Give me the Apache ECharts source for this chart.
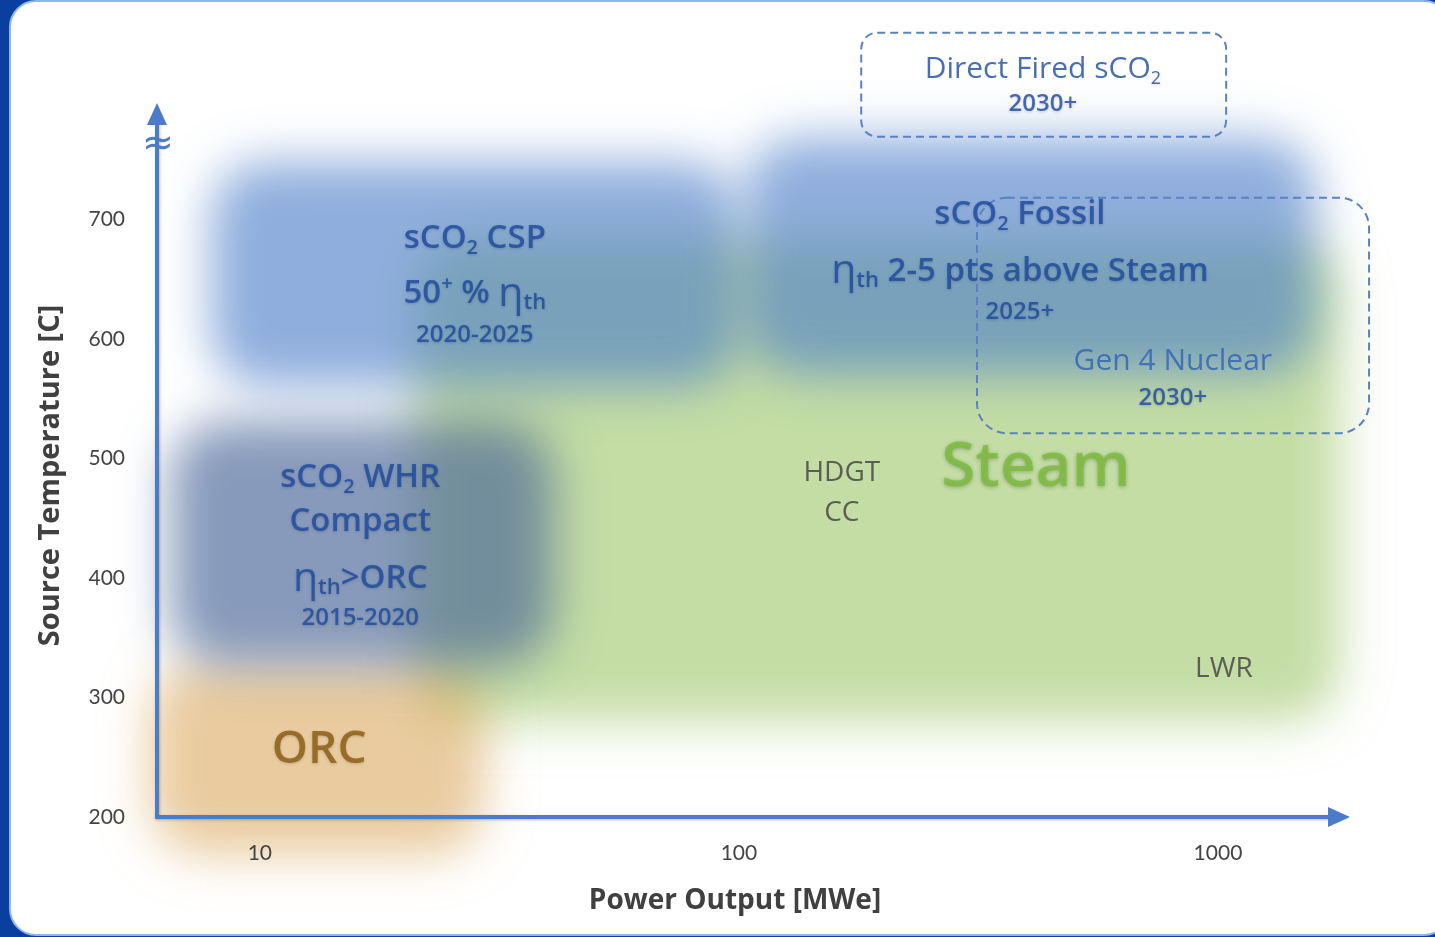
<!DOCTYPE html>
<html><head><meta charset="utf-8">
<script src="https://cdn.jsdelivr.net/npm/echarts@6/dist/echarts.min.js"></script>
<style>html,body{margin:0;padding:0;background:#0b3f9f;overflow:hidden}#c{width:1435px;height:937px}</style>
</head><body><div id="c"></div>
<script>
// ---- data ----
const xTickLabels = [10, 100, 1000];
const yTickLabels = [200, 300, 400, 500, 600, 700];
const regionNames = ['Steam', 'ORC', 'sCO2 WHR', 'sCO2 CSP', 'sCO2 Fossil'];
const regionPowerMin = [21, 5.9, 6.5, 7.9, 103];
const regionPowerMax = [1800, 29.5, 41, 100, 1600];
const regionTempMin = [280, 168, 327, 560, 570];
const regionTempMax = [685, 329, 531, 748, 768];
const boxNames = ['Direct Fired sCO2', 'Gen 4 Nuclear'];
const boxPowerMin = [180, 314];
const boxPowerMax = [1040, 2067];
const boxTempMin = [769, 521];
const boxTempMax = [856, 718];
const noteTexts = ['sCO{s|2} CSP', '50{p|+} % {eta|η}{th|th}', '2020-2025',
  'sCO{s|2} Fossil', '{eta|η}{th|th} 2-5 pts above Steam', '2025+',
  'Gen 4 Nuclear', '2030+', 'Direct Fired sCO{s|2}', '2030+',
  'sCO{s|2} WHR', 'Compact', '{eta|η}{th|th}>ORC', '2015-2020',
  'ORC', 'Steam', 'HDGT', 'CC', 'LWR'];
const notePower = [28.1, 28.1, 28.1, 386, 386, 386, 805, 805, 431, 431, 16.2, 16.2, 16.2, 16.2, 13.3, 417, 164, 164, 1029];
const noteTemp = [684, 637.5, 603, 704, 656, 622, 581, 550, 825, 796, 484, 447.5, 399, 366, 256, 492, 487.5, 454, 324];
const noteKinds = ['head', 'head', 'year', 'head', 'head', 'year', 'gen4', 'year', 'direct', 'year',
  'head', 'head', 'head', 'year', 'orc', 'steam', 'plain', 'plain', 'plain'];

// ---- styles ----
const regionColors = {
  'Steam': 'rgba(160,200,110,0.62)',
  'ORC': 'rgba(215,160,80,0.55)',
  'sCO2 WHR': 'rgba(70,100,150,0.65)',
  'sCO2 CSP': 'rgba(75,125,200,0.62)',
  'sCO2 Fossil': 'rgba(75,125,200,0.62)'
};
const AX = '#4a7cc9';
const FONT = '"Open Sans", Lato, sans-serif';
const BLUE = '#1b4aa0';
const shadow = {textShadowColor: 'rgba(0,0,0,0.22)', textShadowBlur: 3, textShadowOffsetY: 1};
function richFor(st) {
  const size = st.fontSize, color = st.color, fw = st.fontWeight || 'normal';
  return {
    s: {fontSize: Math.round(size * 0.6), color, fontWeight: fw, fontFamily: FONT, lineHeight: 14, verticalAlign: 'bottom', ...shadow},
    th: {fontSize: Math.round(size * 0.66), color, fontWeight: fw, fontFamily: FONT, lineHeight: 16, verticalAlign: 'bottom', ...shadow},
    p: {fontSize: Math.round(size * 0.6), color, fontWeight: fw, fontFamily: FONT, lineHeight: 26, verticalAlign: 'top', ...shadow},
    eta: {fontSize: Math.round(size * 1.25), color, fontWeight: 'normal', fontFamily: FONT, lineHeight: 40, ...shadow}
  };
}
const kindStyle = {
  head: {fontSize: 33, fontWeight: 600, color: BLUE, lineHeight: 40, ...shadow},
  year: {fontSize: 24, fontWeight: 600, color: BLUE, lineHeight: 30, ...shadow},
  gen4: {fontSize: 30, fontWeight: 'normal', color: '#2f62b6', lineHeight: 34},
  direct: {fontSize: 30, fontWeight: 500, color: BLUE, lineHeight: 36},
  orc: {fontSize: 46, fontWeight: 600, color: '#8a5c12', lineHeight: 50, ...shadow},
  steam: {fontSize: 62, fontWeight: 600, color: '#7cbd3c', lineHeight: 70, textShadowColor: 'rgba(0,0,0,0.3)', textShadowBlur: 4, textShadowOffsetY: 1},
  plain: {fontSize: 28, fontWeight: 'normal', color: '#404040', lineHeight: 32}
};

const regionData = regionNames.map((n, i) => [regionPowerMin[i], regionPowerMax[i], regionTempMin[i], regionTempMax[i]]);
const boxData = boxNames.map((n, i) => [boxPowerMin[i], boxPowerMax[i], boxTempMin[i], boxTempMax[i]]);
const noteData = noteTexts.map((t, i) => {
  const st = kindStyle[noteKinds[i]];
  return {
    value: [notePower[i], noteTemp[i]],
    label: {
      show: true, position: 'inside', formatter: t, fontFamily: FONT, ...st,
      rich: richFor(st)
    }
  };
});

function rectFromData(api) {
  const p0 = api.coord([api.value(0), api.value(3)]);
  const p1 = api.coord([api.value(1), api.value(2)]);
  return {x: p0[0], y: p0[1], width: p1[0] - p0[0], height: p1[1] - p0[1]};
}

const OFF = 5000;
const chart = echarts.init(document.getElementById('c'), null, {renderer: 'canvas'});
chart.setOption({
  animation: false,
  backgroundColor: 'transparent',
  grid: {left: 157, right: 96, top: 114, bottom: 120},
  graphic: [
    {type: 'rect', z: -10, shape: {x: 10, y: 1, width: 1440, height: 934, r: 26},
      style: {fill: '#ffffff', stroke: '#8fb5ea', lineWidth: 2}},
    {type: 'text', z: 10, x: 158, y: 145, style: {text: '≈', fontSize: 38, fontFamily: 'DejaVu Sans', fill: AX, align: 'center', verticalAlign: 'middle'}}
  ],
  xAxis: {
    type: 'log', logBase: 10, min: 6.1, max: 1789, z: 5,
    name: 'Power Output [MWe]', nameLocation: 'middle', nameGap: 70,
    nameTextStyle: {fontSize: 28, fontWeight: 'bold', color: '#404040', fontFamily: FONT, padding: [0, 26, 0, 0]},
    axisLine: {show: true, symbol: ['none', 'triangle'], symbolSize: [20, 22],
      lineStyle: {color: AX, width: 4, shadowColor: 'rgba(0,0,0,0.25)', shadowBlur: 3, shadowOffsetY: 1}},
    axisTick: {show: false}, splitLine: {show: false}, minorTick: {show: false},
    axisLabel: {fontSize: 21, color: '#444', fontFamily: 'Lato, sans-serif', margin: 26,
      showMinLabel: false, showMaxLabel: false,
      formatter: v => { const m = xTickLabels.find(t => Math.abs(t - v) / t < 1e-6); return m ? String(m) : ''; }}
  },
  yAxis: {
    type: 'value', min: 200, max: 788, interval: 100, z: 5,
    name: 'Source Temperature [C]', nameLocation: 'middle', nameGap: 92, nameRotate: 90,
    nameTextStyle: {fontSize: 29, fontWeight: 'bold', color: '#404040', fontFamily: FONT, padding: [0, 20, 0, 0]},
    axisLine: {show: true, symbol: ['none', 'triangle'], symbolSize: [20, 22],
      lineStyle: {color: AX, width: 4, shadowColor: 'rgba(0,0,0,0.25)', shadowBlur: 3, shadowOffsetX: 1}},
    axisTick: {show: false}, splitLine: {show: false},
    axisLabel: {fontSize: 21, color: '#444', fontFamily: 'Lato, sans-serif', margin: 32,
      showMaxLabel: false,
      formatter: v => yTickLabels.includes(v) ? String(v) : ''}
  },
  series: [
    {
      type: 'custom', name: 'regions', z: 1, clip: false, silent: true,
      data: regionData,
      encode: {x: [0, 1], y: [2, 3]},
      renderItem: (params, api) => {
        const r = rectFromData(api);
        return {
          type: 'rect',
          shape: {x: r.x - OFF, y: r.y, width: r.width, height: r.height, r: 55},
          style: {fill: '#000', shadowBlur: 48, shadowColor: regionColors[regionNames[params.dataIndex]], shadowOffsetX: OFF}
        };
      }
    },
    {
      type: 'custom', name: 'boxes', z: 3, clip: false, silent: true,
      data: boxData,
      encode: {x: [0, 1], y: [2, 3]},
      renderItem: (params, api) => {
        const r = rectFromData(api);
        return {
          type: 'rect',
          shape: {x: r.x, y: r.y, width: r.width, height: r.height, r: params.dataIndex === 0 ? 16 : 30},
          style: {fill: 'none', stroke: '#5a82c2', lineWidth: 2, lineDash: [8, 5]}
        };
      }
    },
    {
      type: 'scatter', name: 'notes', z: 10, clip: false, silent: true,
      symbolSize: 0, data: noteData
    }
  ]
});
</script></body></html>
